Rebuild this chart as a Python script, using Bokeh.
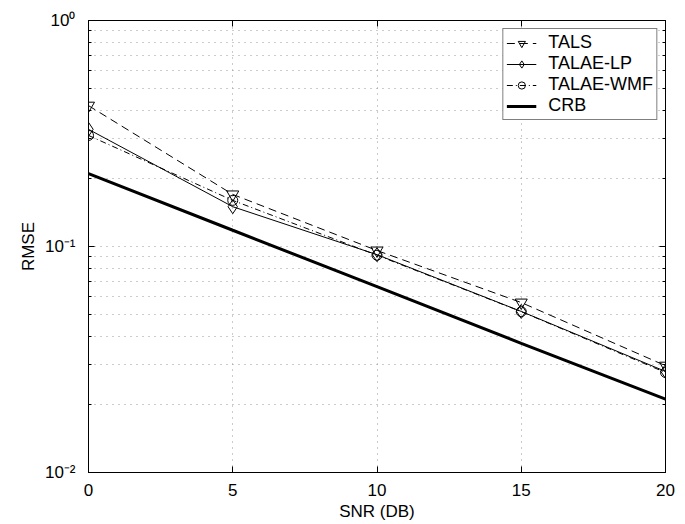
from bokeh.plotting import figure
from bokeh.models import (LinearAxis, LogAxis, Legend, LegendItem, FixedTicker,
                          CustomJSTickFormatter, Range1d)
from bokeh.embed import file_html
from bokeh.resources import INLINE

snr = [0, 5, 10, 15, 20]
tals = [0.42, 0.17, 0.096, 0.0565, 0.0297]
talae_lp = [0.33, 0.150, 0.092, 0.0516, 0.0280]
talae_wmf = [0.31, 0.160, 0.0915, 0.0515, 0.0277]
crb = [0.21, 0.118, 0.0664, 0.0373, 0.0211]

x_ticks = [0, 5, 10, 15, 20]
y_ticks = [0.01, 0.1, 1.0]
y_minor = [m * d for d in (0.01, 0.1) for m in range(2, 10)]
FONT = "Liberation Sans"

p = figure(frame_width=577, frame_height=452, y_axis_type="log",
           x_range=Range1d(0, 20), y_range=Range1d(0.01, 1.0),
           output_backend="svg", toolbar_location=None,
           min_border_left=88, min_border_right=12, min_border_top=20, min_border_bottom=40)
p.background_fill_color = "white"
p.border_fill_color = "white"
p.outline_line_color = "black"

fmt = CustomJSTickFormatter(code="""
const e = Math.round(Math.log10(tick));
const sup = {'-':'\u207b','0':'\u2070','1':'\u00b9','2':'\u00b2','3':'\u00b3'};
return '10' + String(e).split('').map(c => sup[c]).join('');
""")

for ax in p.xaxis:
    ax.ticker = FixedTicker(ticks=x_ticks)
    ax.axis_label = "SNR (DB)"
for ax in p.yaxis:
    ax.ticker = FixedTicker(ticks=y_ticks, minor_ticks=y_minor)
    ax.formatter = fmt
    ax.axis_label = "RMSE"

for ax in p.axis:
    ax.major_tick_in = 6
    ax.major_tick_out = 0
    ax.minor_tick_in = 3
    ax.minor_tick_out = 0
    ax.axis_line_color = "black"
    ax.major_tick_line_color = "black"
    ax.minor_tick_line_color = "black"
    ax.major_label_text_font = FONT
    ax.major_label_text_font_size = "17px"
    ax.major_label_text_color = "black"
    ax.axis_label_text_font = FONT
    ax.axis_label_text_font_size = "17px"
    ax.axis_label_text_font_style = "normal"
    ax.axis_label_text_color = "black"

p.xaxis.minor_tick_line_color = None
p.xaxis.major_label_standoff = 11
p.xaxis.axis_label_standoff = 3
p.yaxis.major_label_standoff = 13
p.yaxis.axis_label_standoff = 4

right = LogAxis(ticker=FixedTicker(ticks=y_ticks, minor_ticks=y_minor),
                major_label_text_font_size="0px",
                major_tick_in=6, major_tick_out=0, minor_tick_in=3, minor_tick_out=0,
                axis_line_color="black")
right.major_label_text_color = None
top = LinearAxis(ticker=FixedTicker(ticks=x_ticks), major_tick_in=6, major_tick_out=0,
                 minor_tick_line_color=None, axis_line_color="black")
top.major_label_text_color = None
top.major_label_text_font_size = "0px"
p.add_layout(right, "right")
p.add_layout(top, "above")

for g in p.grid:
    g.grid_line_color = "#999999"
    g.grid_line_dash = "1 5"
    g.grid_line_width = 1
p.ygrid.minor_grid_line_color = "#999999"
p.ygrid.minor_grid_line_dash = "1 5"

l1 = p.line(snr, tals, line_color="black", line_width=1, line_dash="8 5")
s1 = p.scatter(snr, tals, marker="inverted_triangle", size=12, fill_color=None,
               line_color="black", line_width=1)
l2 = p.line(snr, talae_lp, line_color="black", line_width=1)
s2 = p.scatter(snr, talae_lp, marker="diamond", size=14, fill_color=None,
               line_color="black", line_width=1)
l3 = p.line(snr, talae_wmf, line_color="black", line_width=1, line_dash="6 3 1 3")
s3 = p.scatter(snr, talae_wmf, marker="circle", size=10, fill_color=None,
               line_color="black", line_width=1)
l4 = p.line(snr, crb, line_color="black", line_width=3)

legend = Legend(items=[
    LegendItem(label="TALS", renderers=[l1, s1]),
    LegendItem(label="TALAE-LP", renderers=[l2, s2]),
    LegendItem(label="TALAE-WMF", renderers=[l3, s3]),
    LegendItem(label="CRB", renderers=[l4]),
], location="top_right")
legend.label_text_font = FONT
legend.label_text_font_size = "18px"
legend.label_text_color = "black"
legend.border_line_color = "black"
legend.border_line_width = 1
legend.background_fill_alpha = 1
legend.glyph_width = 30
legend.glyph_height = 18
legend.label_height = 18
legend.spacing = 0
legend.padding = 3
legend.margin = 8
legend.label_standoff = 12
p.add_layout(legend)

open("out.html", "w").write(file_html(p, INLINE))
